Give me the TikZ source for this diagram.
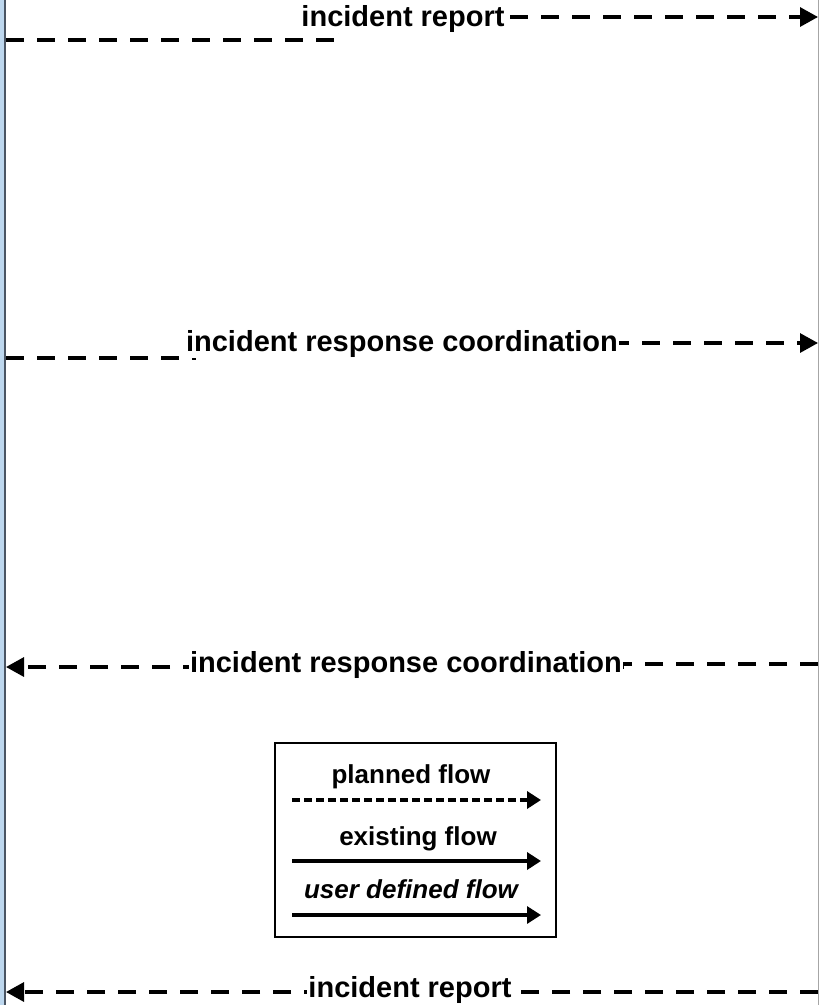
\documentclass[tikz,border=0pt]{standalone}
\usepackage{fontspec}
\setmainfont{Liberation Sans}
\usetikzlibrary{arrows.meta}
\definecolor{edgeblue}{HTML}{BDD7EE}
\definecolor{edgedark}{HTML}{4A5563}
\definecolor{edgegray}{HTML}{A6A6A6}
\begin{document}
\begin{tikzpicture}[x=1pt,y=-1pt,
  flow/.style={line width=3.2pt, dash pattern=on 18pt off 13pt, black},
  tipR/.style={-{Triangle[length=18pt,width=19pt]}},
  lbl/.style={font=\bfseries\fontsize{29}{33}\selectfont, fill=white, inner sep=1pt, anchor=base},
  leg/.style={font=\bfseries\fontsize{26}{30}\selectfont, anchor=base, inner sep=0pt},
  legarrow/.style={line width=3.6pt, -{Triangle[length=14pt,width=17pt]}}
]
\useasboundingbox (0,0) rectangle (820,1005);
\fill[white] (0,0) rectangle (820,1005);
% borders
\fill[edgeblue] (0,0) rectangle (4,1005);
\draw[edgedark, line width=2pt] (5,0) -- (5,1005);
\draw[edgegray, line width=1.5pt] (818.5,0) -- (818.5,1005);

% connector 1
\coordinate (a1) at (6,40);
\coordinate (k1) at (340,40);
\coordinate (b1) at (818,17);
\draw[flow, tipR] (a1) -- (k1) |- (b1);

% connector 2
\coordinate (a2) at (6,358);
\coordinate (k2) at (194,358);
\coordinate (b2) at (818,343);
\draw[flow, tipR] (a2) -- (k2) |- (b2);

% connector 3
\coordinate (a3) at (818,664);
\coordinate (k3) at (622,664);
\coordinate (b3) at (6,667);
\draw[flow, tipR] (a3) -- (k3) |- (b3);

% connector 4
\coordinate (a4) at (818,992);
\coordinate (b4) at (6,992);
\draw[flow, tipR] (a4) -- (b4);

% labels
\node[lbl] (l1) at (403,26) {incident report};
\node[lbl] (l2) at (402,351) {incident response coordination};
\node[lbl] (l3) at (406,672) {incident response coordination};
\node[lbl] (l4) at (410,997) {incident report};

% legend
\node[draw, line width=2.2pt, minimum width=281pt, minimum height=194pt, inner sep=0pt] (legend) at (415.5,840) {};
\node[leg] (p1) at (411,783) {planned flow};
\node[leg] (p2) at (418,845) {existing flow};
\node[leg, font=\bfseries\itshape\fontsize{26}{30}\selectfont] (p3) at (411,898) {user defined flow};
\coordinate (s1) at (292,800); \coordinate (e1) at (541,800);
\coordinate (s2) at (292,861); \coordinate (e2) at (541,861);
\coordinate (s3) at (292,915); \coordinate (e3) at (541,915);
\draw[legarrow, dash pattern=on 8pt off 4pt] (s1) -- (e1);
\draw[legarrow] (s2) -- (e2);
\draw[legarrow, line width=3.2pt] (s3) -- (e3);
\end{tikzpicture}
\end{document}
